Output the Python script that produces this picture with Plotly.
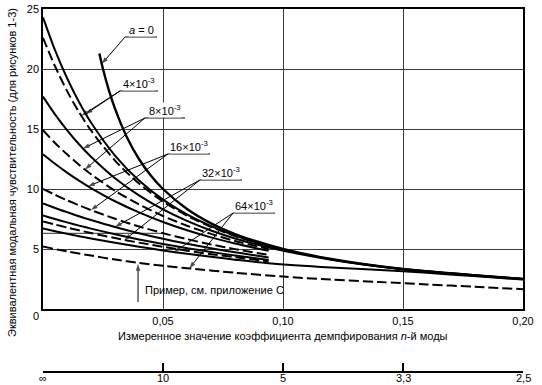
import numpy as np
import plotly.graph_objects as go

# ---------------- data ----------------
ZETA = [0, 0.005, 0.01, 0.015, 0.02, 0.03, 0.04, 0.05, 0.06, 0.07, 0.08, 0.094]
ZETA_EXT = [0.12, 0.15, 0.20]

S_4 = [24.3, 21.57, 19.25, 17.25, 15.54, 12.79, 10.71, 9.12, 7.88, 6.91, 6.12, 5.26]
S_4_EXT = [4.15, 3.33, 2.50]
D_4 = [22.6, 20.23, 18.18, 16.41, 14.88, 12.37, 10.45, 8.96, 7.78, 6.84, 6.08, 5.24]
S_8 = [17.7, 16.22, 14.91, 13.73, 12.69, 10.90, 9.47, 8.30, 7.34, 6.54, 5.88, 5.13]
S_8_EXT = [4.11, 3.32, 2.50]
D_8 = [14.9, 13.84, 12.89, 12.02, 11.23, 9.85, 8.71, 7.75, 6.94, 6.26, 5.67, 5.00]
S_16 = [12.9, 12.10, 11.37, 10.70, 10.08, 8.98, 8.05, 7.25, 6.56, 5.97, 5.46, 4.85]
D_16 = [10.0, 9.52, 9.06, 8.64, 8.24, 7.52, 6.88, 6.32, 5.82, 5.38, 4.99, 4.51]
S_32 = [8.8, 8.42, 8.07, 7.73, 7.42, 6.84, 6.32, 5.85, 5.44, 5.06, 4.72, 4.30]
S_32B = [7.8, 7.50, 7.22, 6.95, 6.70, 6.23, 5.80, 5.42, 5.07, 4.75, 4.46, 4.09]
D_32 = [7.3, 7.04, 6.79, 6.56, 6.33, 5.91, 5.53, 5.18, 4.86, 4.57, 4.31, 3.97]
S_64 = [6.7, 6.48, 6.27, 6.07, 5.88, 5.52, 5.19, 4.88, 4.60, 4.35, 4.11, 3.81]
S_64_EXT = [3.45, 3.15, 2.45]

ZETA_D64 = [0, 0.01, 0.02, 0.03, 0.04, 0.05, 0.06, 0.08, 0.10, 0.12, 0.14, 0.16, 0.18, 0.20]
D_64 = [5.2, 4.8, 4.45, 4.12, 3.83, 3.6, 3.4, 3.02, 2.7, 2.45, 2.25, 2.05, 1.85, 1.65]

ZETA_A0 = [0.0235, 0.025, 0.0275, 0.03, 0.035, 0.04, 0.045, 0.05, 0.06, 0.07, 0.08, 0.10, 0.12, 0.15, 0.20]
A0 = [21.3, 20.0, 18.2, 16.7, 14.3, 12.5, 11.1, 10.0, 8.33, 7.14, 6.25, 5.0, 4.17, 3.33, 2.5]

X_TICKS = [0.05, 0.10, 0.15, 0.20]
X_TICK_TEXT = ["0,05", "0,10", "0,15", "0,20"]
Y_TICKS = [5, 10, 15, 20, 25]
N_TICKS = [0, 0.05, 0.10, 0.15, 0.20]
N_TICK_TEXT = ["∞", "10", "5", "3,3", "2,5"]

EXAMPLE_LEVEL = 6.3
EXAMPLE_ZETA = 0.0396

FONT = "Liberation Sans, Arial, sans-serif"
DASH = "10px,4px"

curves = {
    "a0": (ZETA_A0, A0, "solid"),
    "s4": (ZETA + ZETA_EXT, S_4 + S_4_EXT, "solid"),
    "d4": (ZETA, D_4, DASH),
    "s8": (ZETA + ZETA_EXT, S_8 + S_8_EXT, "solid"),
    "d8": (ZETA, D_8, DASH),
    "s16": (ZETA, S_16, "solid"),
    "d16": (ZETA, D_16, DASH),
    "s32": (ZETA, S_32, "solid"),
    "s32b": (ZETA, S_32B, "solid"),
    "d32": (ZETA, D_32, DASH),
    "s64": (ZETA + ZETA_EXT, S_64 + S_64_EXT, "solid"),
    "d64": (ZETA_D64, D_64, DASH),
}

fig = go.Figure()
for name, (xs, ys, dash) in curves.items():
    fig.add_trace(go.Scatter(x=xs, y=ys, mode="lines", name=name,
                             line=dict(color="black", width=2.4 if name == "a0" else 2,
                                       dash=dash, shape="spline", smoothing=0.8),
                             hoverinfo="skip", showlegend=False))

# invisible trace on the secondary (mode number) axis
fig.add_trace(go.Scatter(x=[N_TICKS[0], N_TICKS[-1]], y=[None, None], xaxis="x2", yaxis="y",
                         mode="lines", showlegend=False, hoverinfo="skip"))


def on(curve, z):
    xs, ys, _ = curves[curve]
    return float(np.interp(z, xs, ys))


def add_arrow(x0, y0, x1, y1):
    """Leader line from (x0, y0) with an arrow head at (x1, y1)."""
    fig.add_trace(go.Scatter(x=[x0, x1], y=[y0, y1], mode="lines+markers",
                             line=dict(color="black", width=1),
                             marker=dict(symbol=["circle", "arrow"], size=[0, 7], angleref="previous",
                                         color="black", line=dict(width=0)),
                             hoverinfo="skip", showlegend=False, cliponaxis=False))


# labels: text, underline x0, x1, underline y, arrow targets (curve, zeta)
labels = [
    ("<i>a</i> = 0", 0.0342, 0.0475, 22.67, [("a0", 0.0245)]),
    ("4×10<sup>-3</sup>", 0.0321, 0.0479, 18.17, [("s4", 0.0179), ("d4", 0.0160)]),
    ("8×10<sup>-3</sup>", 0.0425, 0.0592, 15.92, [("s8", 0.0167), ("d8", 0.0175)]),
    ("16×10<sup>-3</sup>", 0.0521, 0.0696, 12.92, [("s16", 0.0188), ("d16", 0.0200)]),
    ("32×10<sup>-3</sup>", 0.0654, 0.0829, 10.75, [("s32", 0.0300), ("d32", 0.0340)]),
    ("64×10<sup>-3</sup>", 0.0792, 0.0967, 8.00, [("s64", 0.0546), ("d64", 0.0610)]),
]

annotations = []
shapes = []
for text, x0, x1, yl, targets in labels:
    shapes.append(dict(type="line", xref="x", yref="y", x0=x0, x1=x1, y0=yl, y1=yl,
                       line=dict(color="black", width=1)))
    annotations.append(dict(x=(x0 + x1) / 2, y=yl, xref="x", yref="y", text=text, showarrow=False,
                            xanchor="center", yanchor="bottom", yshift=0, bgcolor="white", borderpad=0,
                            font=dict(family=FONT, size=11, color="black")))
    for c, z in targets:
        add_arrow(x0, yl, z, on(c, z))

# example arrow and text
add_arrow(EXAMPLE_ZETA, 0.58, EXAMPLE_ZETA, on("d64", EXAMPLE_ZETA) - 0.1)
annotations.append(dict(x=0.0417, y=1.58, xref="x", yref="y", text="Пример, см. приложение С",
                        showarrow=False, xanchor="left", yanchor="middle",
                        font=dict(family=FONT, size=11, color="black")))
shapes.append(dict(type="line", xref="x", yref="y", x0=0, x1=0.05, y0=EXAMPLE_LEVEL, y1=EXAMPLE_LEVEL,
                   line=dict(color="#555555", width=1.3), layer="below"))

# secondary-scale labels (mode number) placed under the lower scale line
for v, t in zip(N_TICKS, N_TICK_TEXT):
    annotations.append(dict(x=v, y=-0.017, xref="x2", yref="paper", text=t, showarrow=False,
                            xanchor="center", yanchor="middle",
                            font=dict(family=FONT, size=11, color="black")))

# axis titles and origin label
annotations.append(dict(x=-0.0646, y=0.551, xref="paper", yref="paper",
                        text="Эквивалентная модальная чувствительность (для рисунков 1-3)",
                        textangle=-90, showarrow=False, xanchor="center", yanchor="middle",
                        font=dict(family=FONT, size=11, color="black")))
annotations.append(dict(x=0.5, y=0.0992, xref="paper", yref="paper",
                        text="Измеренное значение коэффициента демпфирования <i>n</i>-й моды",
                        showarrow=False, xanchor="center", yanchor="middle",
                        font=dict(family=FONT, size=11, color="black")))
annotations.append(dict(x=-0.0146, y=0.154, xref="paper", yref="paper", text="0",
                        showarrow=False, xanchor="center", yanchor="middle",
                        font=dict(family=FONT, size=11, color="black")))

ydom0 = 63 / 363
fig.update_layout(
    width=542, height=385,
    margin=dict(l=43, r=19, t=9, b=13, pad=0, autoexpand=False),
    paper_bgcolor="white", plot_bgcolor="white",
    font=dict(family=FONT, size=11, color="black"),
    showlegend=False,
    xaxis=dict(range=[0, 0.20], tickvals=X_TICKS, ticktext=X_TICK_TEXT, showgrid=True,
               gridcolor="#3a3a3a", gridwidth=1.3, showline=True, linecolor="black", linewidth=1.5,
               mirror=True, ticks="", zeroline=False, anchor="y", automargin=False,
               ticklabelstandoff=1,
               tickfont=dict(family=FONT, size=11, color="black")),
    yaxis=dict(range=[0, 25], domain=[ydom0, 1], tickvals=Y_TICKS, showgrid=True,
               gridcolor="#3a3a3a", gridwidth=1.3, showline=True, linecolor="black", linewidth=1.5,
               mirror=True, ticks="", zeroline=False, automargin=False,
               tickfont=dict(family=FONT, size=11, color="black")),
    xaxis2=dict(range=[0, 0.20], overlaying="x", anchor="free", position=0, side="bottom",
                tickvals=N_TICKS, showticklabels=False, ticks="inside", ticklen=8, tickwidth=1.5,
                tickcolor="black", showline=True, linecolor="black", linewidth=1.5,
                showgrid=False, zeroline=False, automargin=False),
    annotations=annotations,
    shapes=shapes,
)

fig.write_html("out.html", config={"displayModeBar": False},
               post_script="document.body.style.margin='0';document.body.style.padding='0';"
                           "document.documentElement.style.overflow='hidden';")
